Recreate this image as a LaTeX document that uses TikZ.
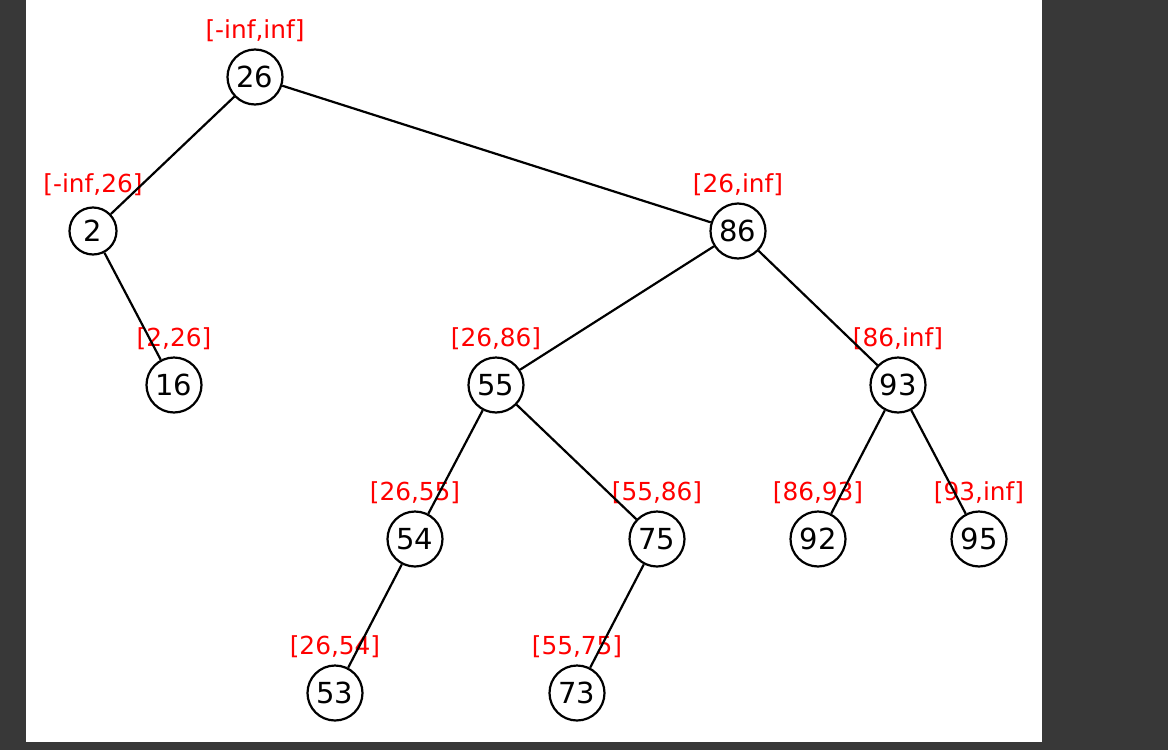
\documentclass[tikz,border=0pt]{standalone}
\usepackage{fontspec}
\setmainfont{DejaVu Sans}
\begin{document}
\begin{tikzpicture}[x=0.5pt,y=-0.5pt,
  nd/.style={circle,draw,fill=white,line width=1.1pt,minimum size=27.5pt,inner sep=0pt,font=\fontsize{14.5}{15}\selectfont},
  lb/.style={text=red,font=\fontsize{12.4}{13}\selectfont},
  ed/.style={line width=1.1pt}]
\fill[fill=black!78] (0,0) rectangle (1168,750);
\fill[white] (26,0) rectangle (1042,742);
\useasboundingbox (0,0) rectangle (1168,750);
\foreach \n/\x/\y/\l in {26/255/77/{[-inf,inf]},2/93/231/{[-inf,26]},86/738/231/{[26,inf]},16/174/385/{[2,26]},55/496/385/{[26,86]},93/898/385/{[86,inf]},54/415/539/{[26,55]},75/657/539/{[55,86]},92/818/539/{[86,93]},95/979/539/{[93,inf]},53/335/693/{[26,54]},73/577/693/{[55,75]}}
  \node[lb] (l\n) at (\x,\y-46) {\l};
\node[nd] (n26) at (255,77) {26};
\node[nd,minimum size=23.5pt] (n2) at (93,231) {2};
\node[nd] (n86) at (738,231) {86};
\node[nd] (n16) at (174,385) {16};
\node[nd] (n55) at (496,385) {55};
\node[nd] (n93) at (898,385) {93};
\node[nd] (n54) at (415,539) {54};
\node[nd] (n75) at (657,539) {75};
\node[nd] (n92) at (818,539) {92};
\node[nd] (n95) at (979,539) {95};
\node[nd] (n53) at (335,693) {53};
\node[nd] (n73) at (577,693) {73};
\foreach \a/\b in {26/2,26/86,2/16,86/55,86/93,55/54,55/75,93/92,93/95,54/53,75/73}
  \draw[ed] (n\a) -- (n\b);
\end{tikzpicture}
\end{document}
